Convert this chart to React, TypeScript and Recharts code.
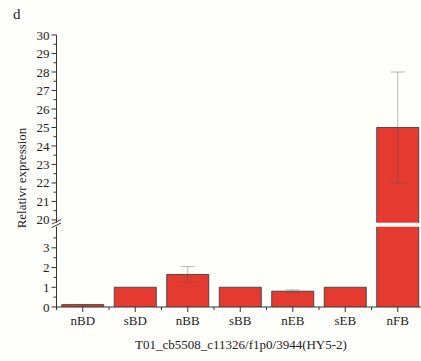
import React from "react";
import { BarChart, Bar, XAxis, YAxis, ErrorBar } from "recharts";

// relative expression per tissue, mean and error
const categories = ["nBD", "sBD", "nBB", "sBB", "nEB", "sEB", "nFB"];
const means = [0.12, 1, 1.65, 1, 0.8, 1, 25];
const errors = [0.01, 0, 0.4, 0, 0.07, 0, 3];

// ticks for the two halves of the broken axis
const upperTicks = [20, 20.5, 21, 21.5, 22, 22.5, 23, 23.5, 24, 24.5, 25, 25.5, 26, 26.5, 27, 27.5, 28, 28.5, 29, 29.5, 30];
const lowerTicks = [0, 0.5, 1, 1.5, 2, 2.5, 3, 3.5];

const UPPER_MIN = 19.85;
const LOWER_MAX = 4.07;

const FONT = "'Liberation Serif', 'Times New Roman', serif";
const RED = "#e43a30";
const INK = "#333";
const BAND = 52.5;

const upperData = categories.map((name, i) => ({
  name,
  value: means[i] >= UPPER_MIN ? means[i] : null,
  err: means[i] >= UPPER_MIN && errors[i] ? errors[i] : null,
}));

const lowerData = categories.map((name, i) => ({
  name,
  value: means[i],
  err: means[i] <= LOWER_MAX && errors[i] ? errors[i] : null,
}));

// bar with an outline on left, top and right only
const OpenBar = (props: any) => {
  const { x, y, width, height, fill } = props;
  if (width == null || height == null) return null;
  return (
    <g>
      <rect x={x} y={y} width={width} height={height} fill={fill} />
      <path
        d={`M${x},${y + height}V${y}H${x + width}V${y + height}`}
        fill="none"
        stroke="#4a4a4a"
        strokeWidth={1}
      />
    </g>
  );
};

// y tick: long line + label on integers, short line on halves
const YTick = (props: any) => {
  const { x, y, payload } = props;
  const major = Number.isInteger(payload.value);
  const ax = x + 7;
  return (
    <g>
      <line x1={ax - (major ? 5 : 3)} x2={ax} y1={y} y2={y} stroke={INK} />
      {major && (
        <text x={x} y={y} dy="0.35em" textAnchor="end" fontFamily={FONT} fontSize={13} fill="#222">
          {payload.value}
        </text>
      )}
    </g>
  );
};

// x tick: centre tick, short ticks at band edges
const XTick = (props: any) => {
  const { x, y, payload, index } = props;
  const ay = y - 9;
  const half = BAND / 2;
  return (
    <g>
      <line x1={x} x2={x} y1={ay} y2={ay + 5} stroke={INK} />
      <line x1={x - half} x2={x - half} y1={ay} y2={ay + 3} stroke={INK} />
      {index === categories.length - 1 && (
        <line x1={x + half} x2={x + half} y1={ay} y2={ay + 3} stroke={INK} />
      )}
      <text x={x} y={y} dy="0.71em" textAnchor="middle" fontFamily={FONT} fontSize={13} fill="#222">
        {payload.value}
      </text>
    </g>
  );
};

export default function App() {
  return (
    <div
      style={{
        position: "absolute",
        left: 0,
        top: 0,
        width: 421,
        height: 361,
        overflow: "hidden",
        background: "#fefefb",
      }}
    >
      {/* lower part: 0 - 4 */}
      <div style={{ position: "absolute", left: 0, top: 215 }}>
        <BarChart
          width={440}
          height={146}
          data={lowerData}
          margin={{ top: 11.7, right: 16, left: 0, bottom: 24 }}
          barCategoryGap="10%"
        >
          <XAxis
            dataKey="name"
            height={30}
            interval={0}
            tickLine={false}
            tickSize={5}
            tickMargin={4}
            axisLine={{ stroke: INK }}
            tick={<XTick />}
          />
          <YAxis
            width={56.5}
            domain={[0, LOWER_MAX]}
            allowDataOverflow
            ticks={lowerTicks}
            interval={0}
            tickLine={false}
            tickSize={5}
            tickMargin={2}
            axisLine={{ stroke: INK }}
            tick={<YTick />}
          />
          <Bar dataKey="value" fill={RED} shape={<OpenBar />} isAnimationActive={false}>
            <ErrorBar dataKey="err" width={7} stroke="#555" strokeOpacity={0.35} strokeWidth={1.2} />
          </Bar>
        </BarChart>
      </div>

      {/* upper part: 20 - 30 */}
      <div style={{ position: "absolute", left: 0, top: 0 }}>
        <BarChart
          width={440}
          height={240}
          data={upperData}
          margin={{ top: 35, right: 16, left: 0, bottom: 17.3 }}
          barCategoryGap="10%"
        >
          <XAxis dataKey="name" hide />
          <YAxis
            width={56.5}
            domain={[UPPER_MIN, 30]}
            ticks={upperTicks}
            interval={0}
            tickLine={false}
            tickSize={5}
            tickMargin={2}
            axisLine={{ stroke: INK }}
            tick={<YTick />}
          />
          <Bar dataKey="value" fill={RED} shape={<OpenBar />} isAnimationActive={false}>
            <ErrorBar dataKey="err" width={7} stroke="#555" strokeOpacity={0.35} strokeWidth={1.2} />
          </Bar>
        </BarChart>
      </div>

      {/* panel letter, axis titles and break marks */}
      <svg
        width={421}
        height={361}
        style={{ position: "absolute", left: 0, top: 0, pointerEvents: "none" }}
      >
        <text x={13} y={19} fontFamily={FONT} fontSize={15} fill="#222">
          d
        </text>
        <text
          x={0}
          y={0}
          transform="translate(26,178) rotate(-90)"
          textAnchor="middle"
          fontFamily={FONT}
          fontSize={13}
          fill="#222"
        >
          Relativr expression
        </text>
        <text x={241} y={349} textAnchor="middle" fontFamily={FONT} fontSize={13} fill="#222">
          T01_cb5508_c11326/f1p0/3944(HY5-2)
        </text>
        <line x1={52} y1={224} x2={61} y2={219.5} stroke={INK} strokeWidth={1} />
        <line x1={52} y1={227.5} x2={61} y2={223} stroke={INK} strokeWidth={1} />
      </svg>
    </div>
  );
}
